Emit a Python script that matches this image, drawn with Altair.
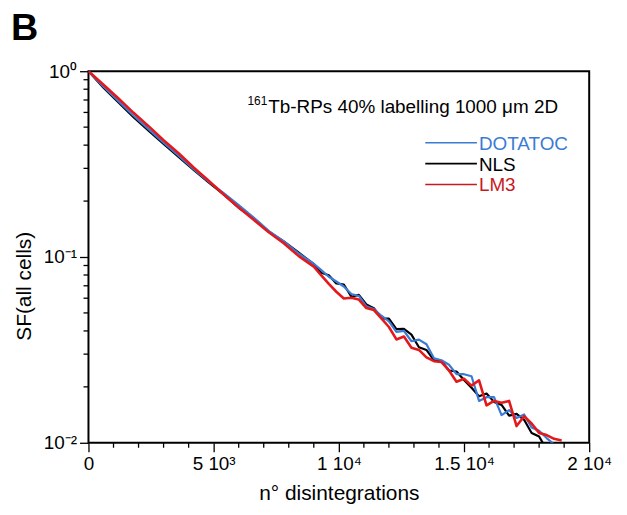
import altair as alt
import pandas as pd

# ---------------- data ----------------
x_values = [0, 600, 1200, 1800, 2400, 3000, 3600, 4200, 4800, 5400, 6000, 6600, 7200, 7800, 8400,
            9000, 9300, 9600, 9900, 10200, 10500, 10800, 11100, 11400, 11700, 12000, 12300, 12600,
            12900, 13200, 13500, 13800, 14100, 14400, 14700, 15000, 15300, 15600, 15900, 16200,
            16500, 16800, 17100, 17400, 17700, 18000, 18300, 18600, 18900]

nls = [1.000, 0.815, 0.679, 0.566, 0.479, 0.406, 0.346, 0.2946, 0.2524, 0.2170, 0.1841, 0.1614,
       0.1371, 0.1214, 0.1055, 0.0916, 0.0822, 0.0798, 0.0721, 0.0711, 0.0611, 0.0625, 0.0556,
       0.0530, 0.0467, 0.0466, 0.0409, 0.0410, 0.0382, 0.0327, 0.0316, 0.0278, 0.0275, 0.0245,
       0.0242, 0.0218, 0.0198, 0.0178, 0.0184, 0.0166, 0.0160, 0.0140, 0.0143, 0.0133, 0.0113,
       0.0108, 0.0092]

dotatoc = [1.000, 0.826, 0.690, 0.576, 0.488, 0.413, 0.351, 0.297, 0.2547, 0.2210, 0.1901, 0.1629,
           0.1383, 0.1214, 0.1044, 0.0920, 0.0850, 0.0783, 0.0738, 0.0694, 0.0632, 0.0617, 0.0543,
           0.0524, 0.0483, 0.0450, 0.0395, 0.0400, 0.0352, 0.0359, 0.0339, 0.0285, 0.0278, 0.0263,
           0.0234, 0.0234, 0.0228, 0.0168, 0.0176, 0.0176, 0.0141, 0.0150, 0.0136, 0.0142, 0.0121,
           0.0116, 0.0106, 0.0098]

lm3 = [1.000, 0.846, 0.713, 0.597, 0.506, 0.425, 0.362, 0.303, 0.2573, 0.2170, 0.1849, 0.1585,
       0.1358, 0.1186, 0.1011, 0.0887, 0.0796, 0.0716, 0.0650, 0.0598, 0.0604, 0.0590, 0.0531,
       0.0518, 0.0467, 0.0420, 0.0360, 0.0373, 0.0325, 0.0316, 0.0288, 0.0275, 0.0272, 0.0245,
       0.0213, 0.0221, 0.0203, 0.0217, 0.0159, 0.0168, 0.0164, 0.0168, 0.0123, 0.0139, 0.0127,
       0.0113, 0.0110, 0.0105, 0.0103]

series_names = ["NLS", "DOTATOC", "LM3"]          # drawing order
series_values = [nls, dotatoc, lm3]
series_colors = ["#000000", "#3a7bd5", "#e3191c"]
series_widths = [2.2, 2.2, 2.6]

legend_names = ["DOTATOC", "NLS", "LM3"]
legend_line_colors = ["#3a7bd5", "#000000", "#c8191e"]
legend_text_colors = ["#3a7bd5", "#000000", "#c8191e"]

x_tick_values = [0, 5000, 10000, 15000, 20000]
x_tick_labels = ["0", "5 10³", "1 10⁴", "1.5 10⁴", "2 10⁴"]
x_minor = [1000, 2000, 3000, 4000, 6000, 7000, 8000, 9000, 11000, 12000, 13000, 14000,
           16000, 17000, 18000, 19000]
y_tick_values = [0.01, 0.1, 1]
y_tick_labels = ["10⁻²", "10⁻¹", "10⁰"]
y_minor = [0.02, 0.03, 0.04, 0.05, 0.06, 0.07, 0.08, 0.09,
           0.2, 0.3, 0.4, 0.5, 0.6, 0.7, 0.8, 0.9]

annotation_sup = "161"
annotation_main = "Tb-RPs 40% labelling 1000 μm 2D"
panel_letter = "B"

# ---------------- chart ----------------
W, H = 504, 374
FONT = "Liberation Sans"


def label_expr(values, labels):
    parts = []
    for v, l in zip(values, labels):
        parts.append(f"abs(datum.value - {v}) < {abs(v) * 1e-6 + 1e-9} ? '{l}'")
    return " : ".join(parts) + " : ''"


x_scale = alt.Scale(domain=[0, 20000], nice=False, zero=False)
y_scale = alt.Scale(type="log", domain=[0.01, 1], nice=False)

x_axis = alt.Axis(values=x_tick_values, labelExpr=label_expr(x_tick_values, x_tick_labels),
                  tickSize=9, tickWidth=1.3, tickColor="black", domain=False, grid=False,
                  labelFont=FONT, labelFontSize=19, labelColor="black", labelPadding=3,
                  labelFlush=False, labelOverlap=False,
                  titleFont=FONT, titleFontSize=21,
                  titleFontWeight="normal", titleColor="black", titleY=57,
                  titleBaseline="alphabetic")
y_axis = alt.Axis(values=y_tick_values, labelExpr=label_expr(y_tick_values, y_tick_labels),
                  tickSize=9, tickWidth=1.3, tickColor="black", domain=False, grid=False,
                  labelFont=FONT, labelFontSize=19, labelColor="black", labelPadding=3,
                  labelFlush=False, labelOverlap=False,
                  titleFont=FONT, titleFontSize=21,
                  titleFontWeight="normal", titleColor="black", titleX=-64, titleY=216,
                  titleAngle=270, titleBaseline="middle", titleAlign="center")

X_TITLE = "n° disintegrations"
Y_TITLE = "SF(all cells)"


def xenc():
    return alt.X("x:Q", scale=x_scale, axis=x_axis, title=X_TITLE)


def yenc():
    return alt.Y("sf:Q", scale=y_scale, axis=y_axis, title=Y_TITLE)


layers = []
for name, vals, col, sw in zip(series_names, series_values, series_colors, series_widths):
    df = pd.DataFrame({"x": x_values[:len(vals)], "sf": vals})
    layers.append(
        alt.Chart(df).mark_line(color=col, strokeWidth=sw, clip=True, strokeJoin="round")
        .encode(x=xenc(), y=yenc())
    )

# minor ticks
layers.append(
    alt.Chart(pd.DataFrame({"x": x_minor})).mark_rule(color="black", strokeWidth=1.3)
    .encode(x=xenc(), y=alt.value(H), y2=alt.value(H + 5))
)
layers.append(
    alt.Chart(pd.DataFrame({"sf": y_minor})).mark_rule(color="black", strokeWidth=1.3)
    .encode(y=yenc(), x=alt.value(-5), x2=alt.value(0))
)

# legend (manual, inside plot)
leg_y = [72, 93, 114]
for name, lc, tc, yy in zip(legend_names, legend_line_colors, legend_text_colors, leg_y):
    layers.append(
        alt.Chart(pd.DataFrame({"t": [name]})).mark_rule(color=lc, strokeWidth=1.6)
        .encode(x=alt.value(339), x2=alt.value(391), y=alt.value(yy))
    )
    layers.append(
        alt.Chart(pd.DataFrame({"t": [name]})).mark_text(
            align="left", baseline="middle", font=FONT, fontSize=19, color=tc)
        .encode(text="t:N", x=alt.value(393), y=alt.value(yy + 1))
    )

# annotation
layers.append(
    alt.Chart(pd.DataFrame({"t": [annotation_sup]})).mark_text(
        align="left", baseline="alphabetic", font=FONT, fontSize=12, color="black")
    .encode(text="t:N", x=alt.value(160), y=alt.value(34))
)
layers.append(
    alt.Chart(pd.DataFrame({"t": [annotation_main]})).mark_text(
        align="left", baseline="alphabetic", font=FONT, fontSize=19, color="black")
    .encode(text="t:N", x=alt.value(181), y=alt.value(42))
)
# panel letter
layers.append(
    alt.Chart(pd.DataFrame({"t": [panel_letter]})).mark_text(
        align="left", baseline="alphabetic", font=FONT, fontSize=38, fontWeight="bold",
        color="black")
    .encode(text="t:N", x=alt.value(-78), y=alt.value(-31))
)

chart = (
    alt.layer(*layers)
    .properties(width=W, height=H, autosize=alt.AutoSizeParams(type="none"),
                padding={"left": 81, "top": 62, "right": 30, "bottom": 62},
                background="white")
    .configure_view(stroke="black", strokeWidth=2)
)

chart.save("out.html", embed_options={"renderer": "svg", "actions": False})
